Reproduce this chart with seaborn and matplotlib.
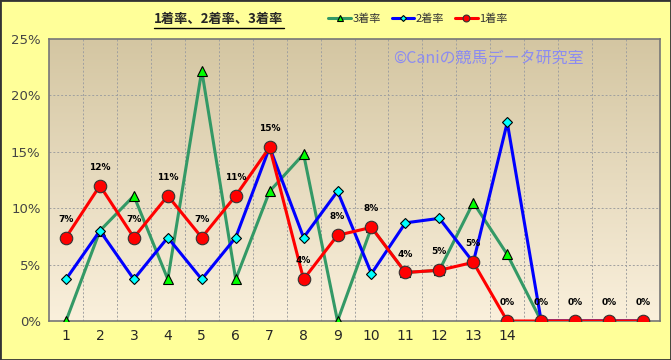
import matplotlib
matplotlib.use('Agg')
import matplotlib.pyplot as plt
import numpy as np
import pandas as pd
import seaborn as sns
from matplotlib.lines import Line2D

sns.set_style('white')
plt.rcParams['font.family'] = ['Noto Sans CJK JP', 'DejaVu Sans']

# data (percent)
races = list(range(1, 19))
rate1 = [7.4, 12.0, 7.4, 11.1, 7.4, 11.1, 15.4, 3.7, 7.6, 8.3, 4.3, 4.5, 5.2, 0, 0, 0, 0, 0]
rate2 = [3.7, 8.0, 3.7, 7.4, 3.7, 7.4, 15.4, 7.4, 11.5, 4.2, 8.7, 9.1, 5.2, 17.6, 0, 0, 0, 0]
rate3 = [0, 8.0, 11.1, 3.7, 22.2, 3.7, 11.5, 14.8, 0, 8.3, 4.3, 4.5, 10.5, 5.9, 0, 0, 0, 0]
labels1 = ['7%', '12%', '7%', '11%', '7%', '11%', '15%', '4%', '8%', '8%',
           '4%', '5%', '5%', '0%', '0%', '0%', '0%', '0%']
xtick_labels = [str(i) for i in range(1, 15)]

df = pd.DataFrame({'race': races, 'r1': rate1, 'r2': rate2, 'r3': rate3})

fig = plt.figure(figsize=(6.71, 3.6), dpi=100)
fig.patch.set_facecolor('#FFFF99')
ax = fig.add_axes([49 / 671, 39 / 360, 611 / 671, 282 / 360])

# gradient background
grad = np.linspace(0, 1, 256).reshape(-1, 1)
cmap = matplotlib.colors.LinearSegmentedColormap.from_list('bg', ['#FAF0DC', '#D4C6A2'])
ax.imshow(grad, extent=[0.5, 18.5, 0, 25], origin='lower', aspect='auto', cmap=cmap, zorder=0)

sns.lineplot(data=df, x='race', y='r3', ax=ax, color='#339966', lw=2.2,
             marker='^', markersize=7.5, markerfacecolor='#00FF00', markeredgecolor='black',
             markeredgewidth=0.8, label='3着率', zorder=3)
sns.lineplot(data=df, x='race', y='r2', ax=ax, color='#0000FF', lw=2.2,
             marker='D', markersize=5.5, markerfacecolor='#00FFFF', markeredgecolor='black',
             markeredgewidth=0.8, label='2着率', zorder=4)
sns.lineplot(data=df, x='race', y='r1', ax=ax, color='#FF0000', lw=2.2,
             marker='o', markersize=9, markerfacecolor='#FF0000', markeredgecolor='#333333',
             markeredgewidth=0.8, label='1着率', zorder=5)

for x, y, t in zip(races, rate1, labels1):
    ax.annotate(t, (x, y), xytext=(0, 10), textcoords='offset points', ha='center',
                va='bottom', fontsize=6.5, fontweight='bold', color='black',
                family='DejaVu Sans', zorder=6)

ax.set_xlim(0.5, 18.5)
ax.set_ylim(0, 25)
ax.set_xticks(range(1, 15))
ax.set_xticklabels(xtick_labels, fontsize=10, family='DejaVu Sans')
ax.set_yticks([0, 5, 10, 15, 20, 25])
ax.set_yticklabels(['0%', '5%', '10%', '15%', '20%', '25%'], fontsize=9.5,
                   color='#444444', family='DejaVu Sans')
ax.tick_params(axis='both', length=0, pad=6)
ax.set_xlabel('')
ax.set_ylabel('')

for v in np.arange(1.5, 18.5, 1):
    ax.axvline(v, color='#a0a0a0', lw=0.7, ls=(0, (2, 2)), zorder=1)
for h in [5, 10, 15, 20]:
    ax.axhline(h, color='#a0a0a0', lw=0.7, ls=(0, (2, 2)), zorder=1)
for s in ax.spines.values():
    s.set_color('#777777')
    s.set_linewidth(1.2)

ax.get_legend().remove()
handles, lbls = ax.get_legend_handles_labels()
fig.legend(handles, lbls, loc='center', bbox_to_anchor=(418 / 671, 1 - 19 / 360), ncol=3,
           frameon=False, fontsize=8, handlelength=2.0, columnspacing=1.0,
           handletextpad=0.15, markerscale=0.55, labelcolor='#333333')

fig.text(488 / 671, 1 - 58 / 360, '©Caniの競馬データ研究室', ha='center', va='center',
         fontsize=11.5, color='#8C8CF0', zorder=10)

title = fig.text(219 / 671, 1 - 19 / 360, '1着率、2着率、3着率', ha='center', va='center',
                 fontsize=9.5, fontweight='bold')
fig.canvas.draw()
bb = title.get_window_extent().transformed(fig.transFigure.inverted())
fig.add_artist(Line2D([bb.x0, bb.x1], [bb.y0 - 0.005, bb.y0 - 0.005], color='black', lw=1))

# outer border
fig.add_artist(matplotlib.patches.Rectangle((0, 0), 1, 1, transform=fig.transFigure,
                                            fill=False, edgecolor='#333333', lw=2))

fig.savefig('out.png', dpi=100, facecolor=fig.get_facecolor())
